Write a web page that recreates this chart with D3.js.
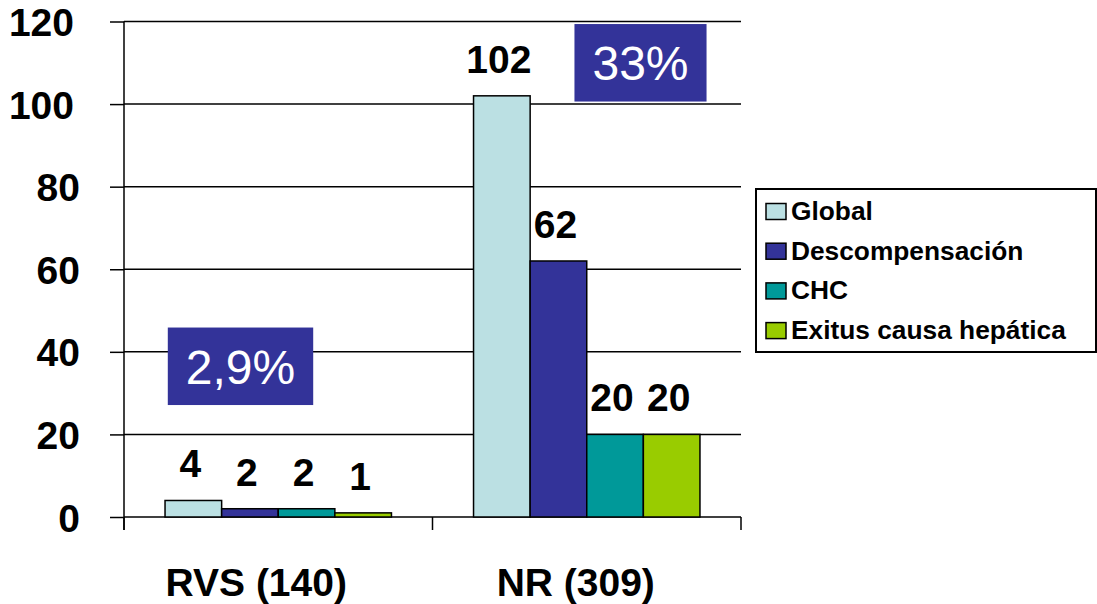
<!DOCTYPE html>
<html>
<head>
<meta charset="utf-8">
<script src="https://cdn.jsdelivr.net/npm/d3@7/dist/d3.min.js"></script>
<style>
  html, body { margin: 0; padding: 0; background: #fff; }
  svg { display: block; font-family: "Liberation Sans", Arial, sans-serif; }
</style>
</head>
<body>
<svg id="chart" width="1097" height="604"></svg>
<script>
// Patients per group and events per type
const categories = ["RVS (140)", "NR (309)"];
const series = ["Global", "Descompensación", "CHC", "Exitus causa hepática"];
const globalVals = [4, 102];
const descompVals = [2, 62];
const chcVals = [2, 20];
const exitusVals = [1, 20];
const pctLabels = ["2,9%", "33%"];
const yTicks = [0, 20, 40, 60, 80, 100, 120];

const colors = ["#BBE0E3", "#333399", "#009999", "#99CC00"];
const valuesBySeries = [globalVals, descompVals, chcVals, exitusVals];

// Layout
const plot = { left: 124, right: 741, top: 21.5, bottom: 517 };
const catLabelShift = [-22, -11];          // horizontal nudge of group labels
const pctBoxAnchor = [                      // percentage callouts: offset within band, centre in axis units
  { dx: 116.5, yVal: 36.5 },
  { dx: 208, yVal: 110 }
];

const svg = d3.select("#chart");

const x0 = d3.scaleBand().domain(categories).range([plot.left, plot.right]).padding(0);
const x1 = d3.scaleBand().domain(series).range([0, x0.bandwidth()])
  .paddingInner(0).paddingOuter(0.725);
const y = d3.scaleLinear().domain([0, 120]).range([plot.bottom, plot.top]);

// Horizontal gridlines
svg.append("g")
  .selectAll("line")
  .data(yTicks)
  .join("line")
  .attr("x1", plot.left).attr("x2", plot.right)
  .attr("y1", d => y(d)).attr("y2", d => y(d))
  .attr("stroke", "#000").attr("stroke-width", 1.5);

// Y axis
const yAxis = d3.axisLeft(y).tickValues(yTicks).tickSize(14).tickPadding(30);
const gy = svg.append("g").attr("transform", `translate(${plot.left},0)`).call(yAxis);
gy.select(".domain").remove();
gy.selectAll(".tick line").attr("stroke", "#000").attr("stroke-width", 1.5);
gy.selectAll(".tick text")
  .attr("font-family", "'Liberation Sans', Arial, sans-serif")
  .attr("font-size", 39).attr("font-weight", "bold").attr("fill", "#000")
  .attr("dx", d => d >= 100 ? -6 : 0)
  .attr("dy", "0.36em");
svg.append("line")
  .attr("x1", plot.left).attr("x2", plot.left)
  .attr("y1", plot.top).attr("y2", plot.bottom + 13)
  .attr("stroke", "#000").attr("stroke-width", 1.5);

// Category boundary ticks under the baseline
const bounds = categories.map(c => x0(c)).concat([x0(categories[categories.length - 1]) + x0.bandwidth()]);
svg.append("g").selectAll("line")
  .data(bounds)
  .join("line")
  .attr("x1", d => d).attr("x2", d => d)
  .attr("y1", plot.bottom).attr("y2", plot.bottom + 13)
  .attr("stroke", "#000").attr("stroke-width", 1.5);

// Category labels
svg.append("g").selectAll("text")
  .data(categories)
  .join("text")
  .attr("x", (d, i) => x0(d) + x0.bandwidth() / 2 + catLabelShift[i])
  .attr("y", 596)
  .attr("text-anchor", "middle")
  .attr("font-size", 39).attr("font-weight", "bold")
  .text(d => d);

// Bars
const barData = [];
categories.forEach((c, ci) => {
  series.forEach((s, si) => {
    barData.push({ cat: c, ser: s, si, value: valuesBySeries[si][ci] });
  });
});

svg.append("g").selectAll("rect")
  .data(barData)
  .join("rect")
  .attr("x", d => x0(d.cat) + x1(d.ser))
  .attr("y", d => y(d.value))
  .attr("width", x1.bandwidth())
  .attr("height", d => y(0) - y(d.value))
  .attr("fill", d => colors[d.si])
  .attr("stroke", "#000").attr("stroke-width", 1.5);

// Value labels
svg.append("g").selectAll("text")
  .data(barData)
  .join("text")
  .attr("x", d => x0(d.cat) + x1(d.ser) + x1.bandwidth() / 2 - 3)
  .attr("y", d => y(d.value) - 23)
  .attr("text-anchor", "middle")
  .attr("font-size", 39).attr("font-weight", "bold")
  .text(d => d.value);

// Percentage callouts
categories.forEach((c, i) => {
  const g = svg.append("g");
  const cx = x0(c) + pctBoxAnchor[i].dx;
  const cy = y(pctBoxAnchor[i].yVal);
  const rect = g.append("rect").attr("fill", "#333399");
  const t = g.append("text")
    .attr("x", cx).attr("y", cy)
    .attr("dy", "0.36em")
    .attr("text-anchor", "middle")
    .attr("font-size", 48).attr("fill", "#fff")
    .text(pctLabels[i]);
  const w = t.node().getComputedTextLength() + 36;
  const h = 77.5;
  rect.attr("x", cx - w / 2).attr("y", cy - h / 2).attr("width", w).attr("height", h);
});

// Legend
const legend = svg.append("g");
legend.append("rect")
  .attr("x", 756).attr("y", 189).attr("width", 340).attr("height", 163)
  .attr("fill", "#fff").attr("stroke", "#000").attr("stroke-width", 2);
const items = legend.selectAll("g.item")
  .data(series)
  .join("g").attr("class", "item")
  .attr("transform", (d, i) => `translate(0,${220 + i * 39.7})`);
items.append("rect")
  .attr("x", 766).attr("y", -16.5).attr("width", 20).attr("height", 16)
  .attr("fill", (d, i) => colors[i]).attr("stroke", "#000").attr("stroke-width", 1.5);
items.append("text")
  .attr("x", 791).attr("y", 0)
  .attr("font-size", 26.3).attr("font-weight", "bold")
  .text(d => d);
</script>
</body>
</html>
